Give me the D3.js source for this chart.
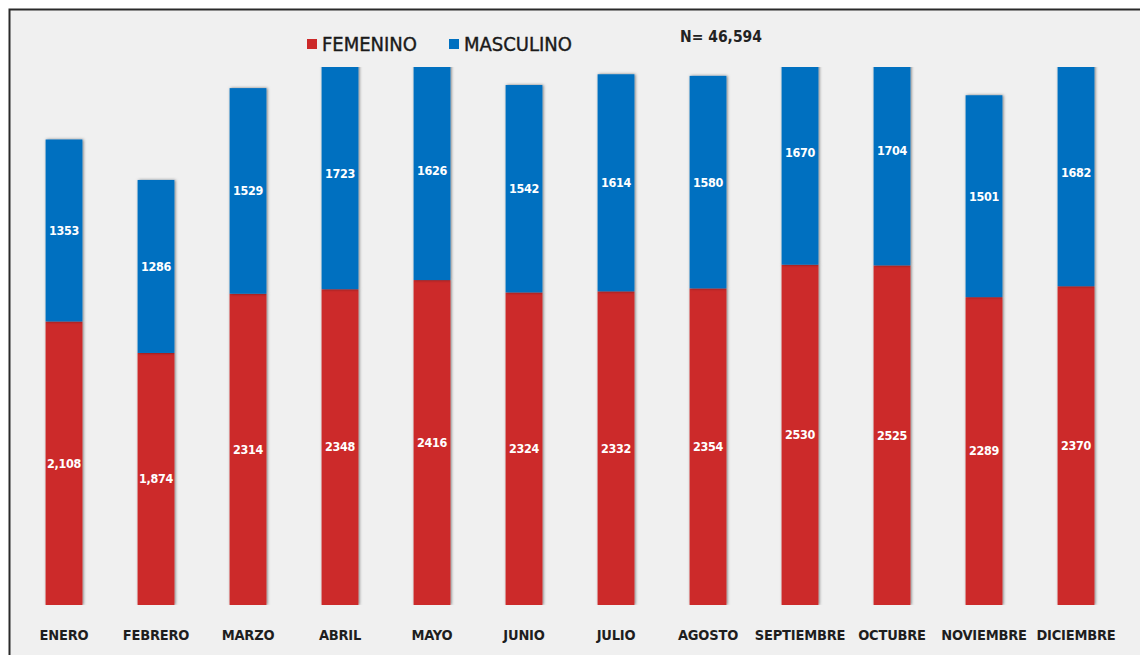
<!DOCTYPE html>
<html lang="es">
<head>
<meta charset="UTF-8">
<title>Femenino / Masculino por mes</title>
<script src="https://cdn.jsdelivr.net/npm/d3@7"></script>
<style>
    body { margin: 0; padding: 0; background: #fff; overflow: hidden; }
    svg { display: block; }
    .lbl { font-family: "Liberation Sans Narrow", "DejaVu Sans Condensed", "Roboto", sans-serif; }
</style>
</head>
<body>
<svg id="chart"></svg>
<script>
// data
const meses = ["ENERO", "FEBRERO", "MARZO", "ABRIL", "MAYO", "JUNIO", "JULIO",
               "AGOSTO", "SEPTIEMBRE", "OCTUBRE", "NOVIEMBRE", "DICIEMBRE"];
const femenino = [2108, 1874, 2314, 2348, 2416, 2324, 2332, 2354, 2530, 2525, 2289, 2370];
const masculino = [1353, 1286, 1529, 1723, 1626, 1542, 1614, 1580, 1670, 1704, 1501, 1682];
const etiquetasFem = ["2,108", "1,874", "2314", "2348", "2416", "2324", "2332", "2354", "2530", "2525", "2289", "2370"];
const etiquetasMasc = ["1353", "1286", "1529", "1723", "1626", "1542", "1614", "1580", "1670", "1704", "1501", "1682"];
const series = ["FEMENINO", "MASCULINO"];
const colores = ["#cc2929", "#0070c0"];
const yMax = 4000;
const totalN = "N= 46,594";

const width = 1140, height = 655;
const svg = d3.select('#chart').attr('width', width).attr('height', height);

// drop shadow like the spreadsheet bars
const defs = svg.append('defs');
const f = defs.append('filter').attr('id', 'sombra')
    .attr('x', '-20%').attr('y', '-5%').attr('width', '140%').attr('height', '110%');
f.append('feDropShadow').attr('dx', 1).attr('dy', 0).attr('stdDeviation', 1.8)
    .attr('flood-color', '#000').attr('flood-opacity', 0.5);

// panel with frame (right/bottom edge run off the picture)
svg.append('rect')
    .attr('x', 9.5).attr('y', 9.5)
    .attr('width', width + 20).attr('height', height + 20)
    .attr('fill', '#f0f0f0')
    .attr('stroke', '#2a2a2a').attr('stroke-width', 2);

const x = d3.scaleBand().domain(meses).range([18, 1122]).paddingInner(0.6).paddingOuter(0.3);
const y = d3.scaleLinear().domain([0, yMax]).range([605, 67]);

defs.append('clipPath').attr('id', 'recorte')
    .append('rect').attr('x', 0).attr('y', y(yMax)).attr('width', width).attr('height', y(0) - y(yMax));

const filas = meses.map((m, i) => ({ mes: m, FEMENINO: femenino[i], MASCULINO: masculino[i] }));
const pilas = d3.stack().keys(series)(filas);

const barras = svg.append('g').attr('clip-path', 'url(#recorte)');
barras.selectAll('g.serie')
    .data(pilas)
    .join('g')
    .attr('class', 'serie')
    .attr('fill', (d, i) => colores[i])
    .selectAll('rect')
    .data(d => d)
    .join('rect')
    .attr('x', d => x(d.data.mes))
    .attr('y', d => y(d[1]))
    .attr('width', x.bandwidth())
    .attr('height', d => y(d[0]) - y(d[1]))
    .attr('filter', 'url(#sombra)');

// value labels inside the segments
const etiquetas = [etiquetasFem, etiquetasMasc];
pilas.forEach((capa, k) => {
    svg.append('g').selectAll('text')
        .data(capa)
        .join('text')
        .attr('class', 'lbl')
        .attr('x', d => x(d.data.mes) + x.bandwidth() / 2)
        .attr('y', d => (y(d[0]) + y(d[1])) / 2)
        .attr('dy', '0.35em')
        .attr('text-anchor', 'middle')
        .attr('fill', '#fff')
        .attr('font-size', 12.5)
        .attr('font-weight', 'bold')
        .attr('letter-spacing', -0.3)
        .text((d, i) => etiquetas[k][i]);
});

// month axis labels
const eje = d3.axisBottom(x).tickSize(0).tickPadding(0);
const gEje = svg.append('g').attr('transform', 'translate(0,630)').call(eje);
gEje.select('.domain').remove();
gEje.selectAll('text')
    .attr('class', 'lbl')
    .attr('dy', '0.35em')
    .attr('y', 5)
    .attr('fill', '#1e1e1e')
    .attr('font-size', 14.5)
    .attr('font-weight', 'bold')
    .attr('letter-spacing', -0.2);

// legend
const leyenda = svg.append('g').attr('transform', 'translate(307,44)');
const posLeyenda = [0, 142];
series.forEach((s, i) => {
    const g = leyenda.append('g').attr('transform', `translate(${posLeyenda[i]},0)`);
    g.append('rect').attr('x', 0).attr('y', -5).attr('width', 10).attr('height', 10).attr('fill', colores[i]);
    g.append('text').attr('class', 'lbl')
        .attr('x', 15).attr('y', 0).attr('dy', '0.35em')
        .attr('font-size', 20).attr('fill', '#1a1a1a')
        .attr('stroke', '#1a1a1a').attr('stroke-width', 0.4)
        .text(s);
});

svg.append('text').attr('class', 'lbl')
    .attr('x', 680).attr('y', 37).attr('dy', '0.35em')
    .attr('font-size', 15.5).attr('font-weight', 'bold').attr('fill', '#222')
    .text(totalN);
</script>
</body>
</html>
